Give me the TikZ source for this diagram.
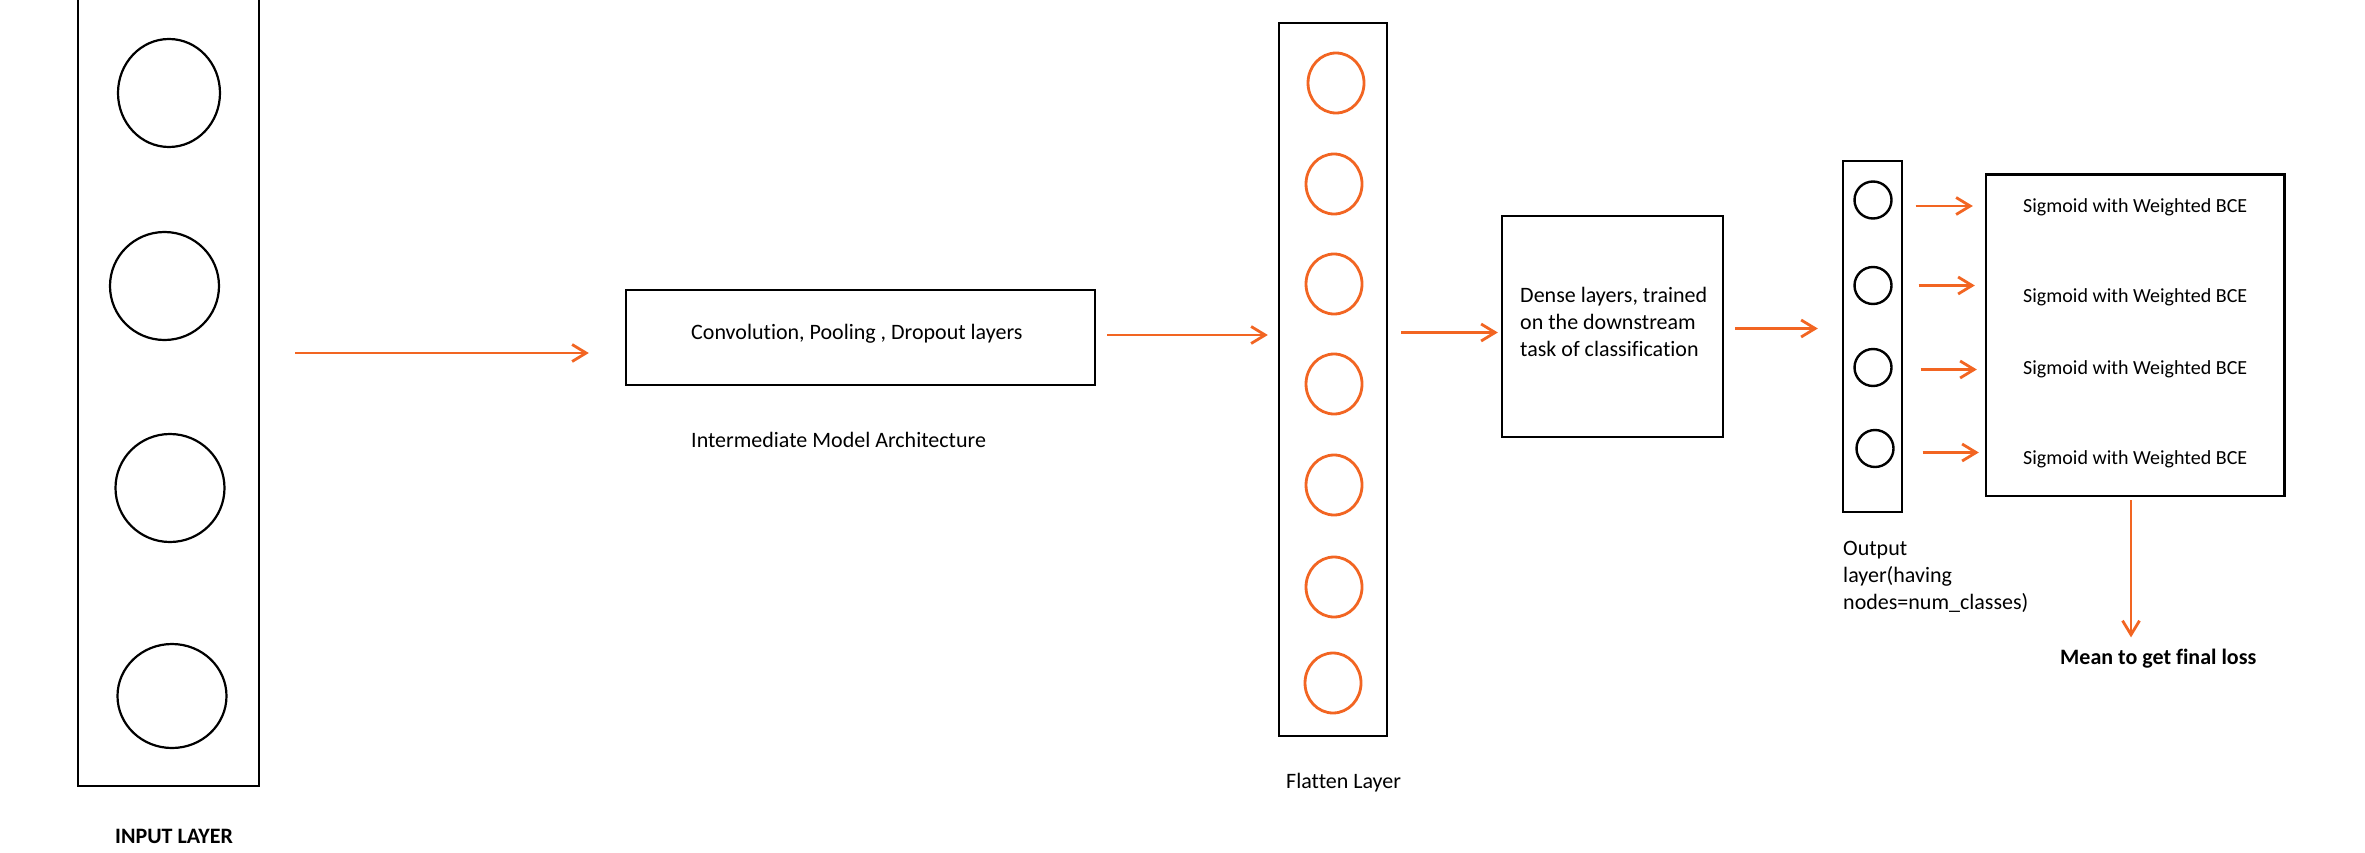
\documentclass[tikz,border=0pt]{standalone}
\usepackage{fontspec}
\setmainfont{Carlito}[Ligatures=NoCommon]
\usetikzlibrary{arrows.meta,shapes.geometric}
\definecolor{orng}{RGB}{242,101,34}
\begin{document}
\begin{tikzpicture}[x=1pt,y=-1pt,
  box/.style={draw=black, line width=2.4pt, inner sep=0pt},
  bneuron/.style={draw=black, ellipse, line width=2.2pt, inner sep=0pt},
  oneuron/.style={draw=orng, ellipse, line width=2.8pt, inner sep=0pt, minimum width=56pt, minimum height=60pt},
  sneuron/.style={draw=black, ellipse, line width=2.4pt, inner sep=0pt, minimum width=37pt, minimum height=37pt},
  arr/.style={draw=orng, line width=2.8pt, -{Straight Barb[length=14pt,width=17pt]}},
  lbl/.style={anchor=base west, inner sep=0pt, font=\fontsize{22pt}{26.7pt}\selectfont},
  lblb/.style={anchor=base west, inner sep=0pt, font=\fontsize{22pt}{26.7pt}\selectfont\bfseries},
  slbl/.style={anchor=base west, inner sep=0pt, font=\fontsize{20pt}{24pt}\selectfont},
]
\clip (0,0) rectangle (2365,853);
\fill[white] (0,0) rectangle (2365,853);

% input layer
\node[box, minimum width=181pt, minimum height=800pt] (inbox) at (168.5,386) {};
\node[bneuron, minimum width=102pt, minimum height=108pt] (i1) at (169,93) {};
\node[bneuron, minimum width=109pt, minimum height=108pt] (i2) at (164.5,286) {};
\node[bneuron, minimum width=109pt, minimum height=108pt] (i3) at (170,488) {};
\node[bneuron, minimum width=109pt, minimum height=104pt] (i4) at (172,696) {};
\node[lblb] (inlbl) at (115,843) {INPUT LAYER};

% intermediate
\node[box, minimum width=469pt, minimum height=95pt] (conv) at (860.5,337.5) {};
\node[lbl] (convtxt) at (691,339) {Convolution, Pooling , Dropout layers};
\node[lbl] (convlbl) at (691,447) {Intermediate Model Architecture};

% flatten
\node[box, minimum width=108pt, minimum height=713pt] (flat) at (1333,379.5) {};
\node[oneuron] (f1) at (1336,83) {};
\node[oneuron] (f2) at (1334,184) {};
\node[oneuron] (f3) at (1334,284) {};
\node[oneuron] (f4) at (1334,384) {};
\node[oneuron] (f5) at (1334,485) {};
\node[oneuron] (f6) at (1334,587) {};
\node[oneuron] (f7) at (1333,683) {};
\node[lbl] (flatlbl) at (1286,788) {Flatten Layer};

% dense
\node[box, minimum width=221pt, minimum height=221pt] (dense) at (1612.5,326.5) {};
\node[lbl, align=left] (densetxt) at (1520,356.1) {Dense layers, trained\\on the downstream\\task of classification};

% output layer
\node[box, minimum width=59pt, minimum height=351pt] (outbox) at (1872.5,336.5) {};
\node[sneuron] (o1) at (1873,200) {};
\node[sneuron] (o2) at (1873,285.5) {};
\node[sneuron] (o3) at (1873,367.5) {};
\node[sneuron] (o4) at (1875,448.5) {};
\node[lbl, align=left] (outlbl) at (1843,609) {Output\\layer(having\\nodes=num\_classes)};

% sigmoid box
\node[box, minimum width=298.5pt, minimum height=321.5pt] (sig) at (2135.25,335.25) {};
\node[slbl] (s1) at (2023,212.5) {Sigmoid with Weighted BCE};
\node[slbl] (s2) at (2023,302.5) {Sigmoid with Weighted BCE};
\node[slbl] (s3) at (2023,374.5) {Sigmoid with Weighted BCE};
\node[slbl] (s4) at (2023,464.5) {Sigmoid with Weighted BCE};
\node[lblb] (mean) at (2060,664) {Mean to get final loss};

% connectors
\coordinate (r1) at (0,353);
\coordinate (r2) at (0,335);
\coordinate (r3) at (0,332.5);
\coordinate (r4) at (0,328.5);
\coordinate (dcol) at (2131,0);
\draw[arr, shorten <=35pt, shorten >=36pt] (inbox.east |- r1) -- (conv.west |- r1);
\draw[arr, shorten <=11pt, shorten >=10pt] (conv.east |- r2) -- (flat.west |- r2);
\draw[arr, shorten <=13pt, shorten >=3pt] (flat.east |- r3) -- (dense.west |- r3);
\draw[arr, shorten <=11pt, shorten >=24pt] (dense.east |- r4) -- (outbox.west |- r4);
\draw[arr, shorten <=23pt, shorten >=12pt] ([yshift=-6pt]o1.east) -- ([yshift=-6pt]o1.east -| sig.west);
\draw[arr, shorten <=26pt, shorten >=10pt] (o2.east) -- (o2.east -| sig.west);
\draw[arr, shorten <=28pt, shorten >=8pt] ([yshift=-2pt]o3.east) -- ([yshift=-2pt]o3.east -| sig.west);
\draw[arr, shorten <=28pt, shorten >=6pt] ([yshift=-4pt]o4.east) -- ([yshift=-4pt]o4.east -| sig.west);
\draw[arr, shorten <=3pt, shorten >=11pt] (sig.south -| dcol) -- (mean.north -| dcol);
\end{tikzpicture}
\end{document}
